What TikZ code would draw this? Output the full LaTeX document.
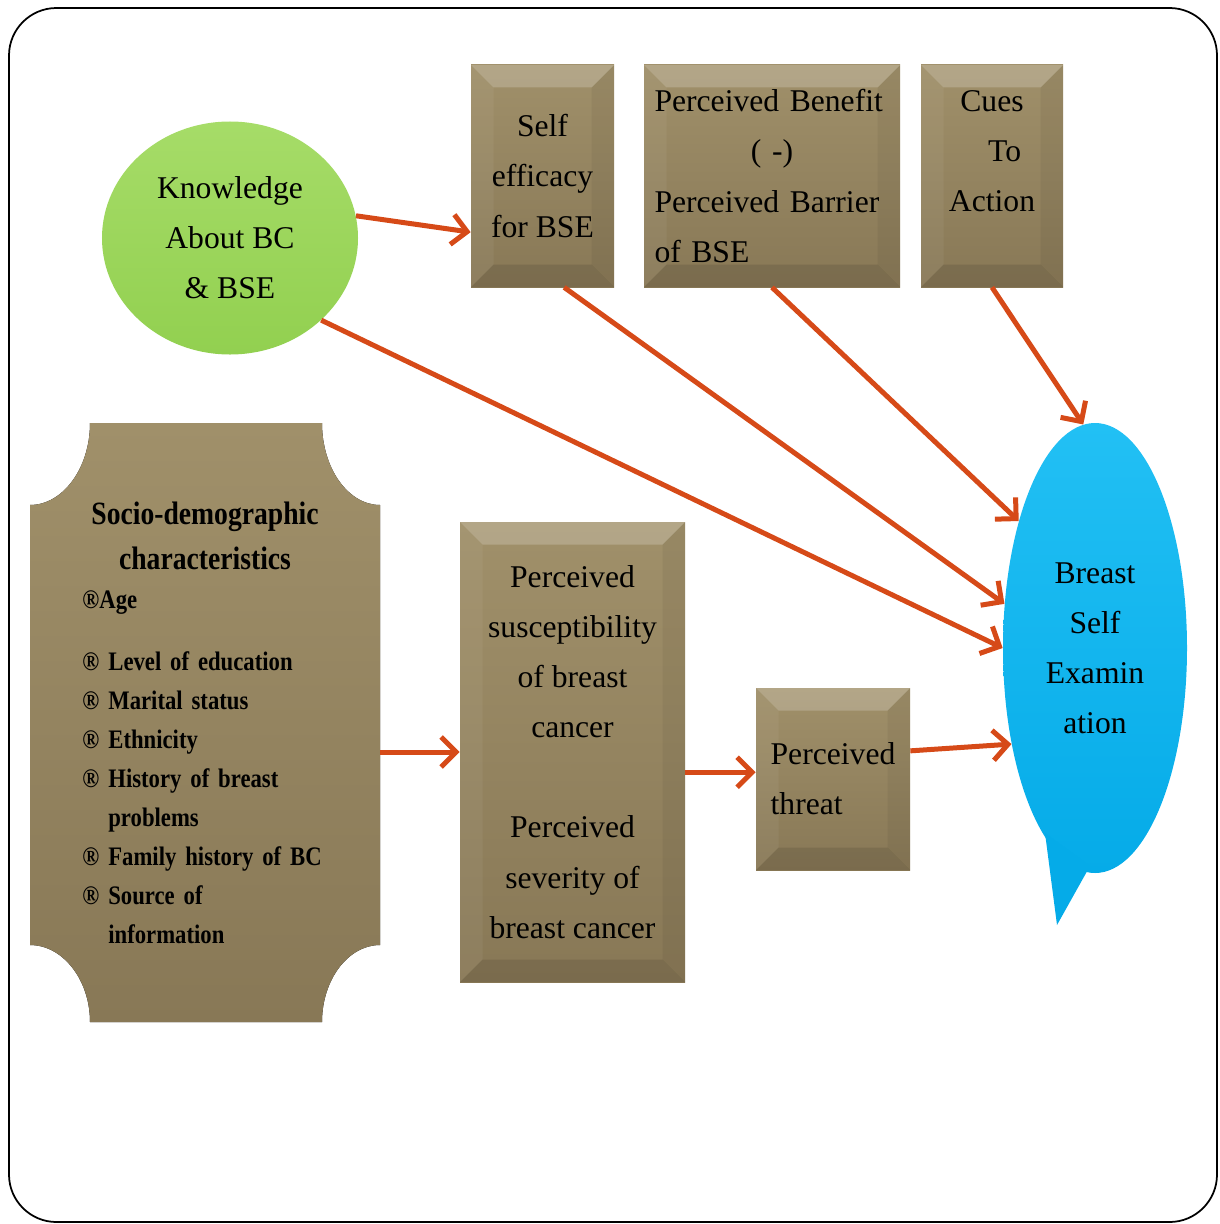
\documentclass[tikz,border=0pt]{standalone}
\usepackage{fontspec}
\setmainfont{Liberation Serif}
\newfontfamily\narrowfont[FakeStretch=0.85]{Liberation Serif}
\usetikzlibrary{arrows.meta,shapes.geometric,calc}
\definecolor{plate}{RGB}{136,120,86}
\definecolor{platetop}{RGB}{160,144,106}
\definecolor{leaf}{RGB}{146,208,80}
\definecolor{leaftop}{RGB}{166,220,104}
\definecolor{sky}{RGB}{5,171,232}
\definecolor{skytop}{RGB}{34,192,244}
\definecolor{rust}{RGB}{214,74,24}
\setlength{\parindent}{0pt}
\hyphenpenalty=10000

\begin{document}
\begin{tikzpicture}[x=0.2mm,y=-0.2mm]
	\tikzset{every node/.style={font=\fontsize{18}{28.5}\selectfont,
			inner sep=0pt, align=center}}
	\tikzset{bevel/.style = {path picture={
		\path (path picture bounding box.north west) coordinate (b1)
		      (path picture bounding box.north east) coordinate (b2)
		      (path picture bounding box.south east) coordinate (b3)
		      (path picture bounding box.south west) coordinate (b4);
		\fill[white,opacity=.2] (b1) -- (b2) -- ($(b2)+(-4.5mm,-4.5mm)$) -- ($(b1)+(4.5mm,-4.5mm)$) -- cycle;
		\fill[white,opacity=.05] (b1) -- (b4) -- ($(b4)+(4.5mm,4.5mm)$) -- ($(b1)+(4.5mm,-4.5mm)$) -- cycle;
		\fill[black,opacity=.05] (b2) -- (b3) -- ($(b3)+(-4.5mm,4.5mm)$) -- ($(b2)+(-4.5mm,-4.5mm)$) -- cycle;
		\fill[black,opacity=.1] (b4) -- (b3) -- ($(b3)+(-4.5mm,4.5mm)$) -- ($(b4)+(4.5mm,4.5mm)$) -- cycle;
	}}}
	\tikzset{box/.style = {rectangle, top color=platetop, bottom color=plate, bevel}}
	\tikzset{ball/.style = {ellipse, minimum width=51.2mm, minimum height=46.6mm,
			top color=leaftop, bottom color=leaf}}
	\tikzset{bubble/.style = {ellipse, minimum width=36.8mm, minimum height=90mm,
			top color=skytop, bottom color=sky}}
	\tikzset{link/.style = {draw=rust, line width=1mm,
			-{Straight Barb[length=3mm,width=6mm]}}}
	\useasboundingbox (0,0) rectangle (1219,1224);
	% frame
	\draw[line width=0.35mm, rounded corners=9.5mm] (9,8) rectangle (1217,1222);
	% plaque behind the socio-demographic list
	\fill[top color=platetop, bottom color=plate] (90,423) -- (322,423)
		.. controls (322,468) and (348,505) .. (380,505) -- (380,945)
		.. controls (348,945) and (322,980) .. (322,1022) -- (90,1022)
		.. controls (90,980) and (63,945) .. (30,945) -- (30,505)
		.. controls (63,505) and (90,468) .. (90,423) -- cycle;
	% vertices
	\node[ball] (know) at (230,238) {Knowledge\\About BC\\\& BSE};
	\node[box, minimum width=28.6mm, minimum height=44.4mm] (self) at (542.5,176)
		{Self\\efficacy\\for BSE};
	\node[box, minimum width=51.2mm, minimum height=44.4mm, text width=47mm, align=left]
		(benefit) at (772,176)
		{Perceived Benefit\\\hspace*{\fill}( -)\hspace*{\fill}\null\\Perceived Barrier\\of BSE};
	\node[box, minimum width=28.4mm, minimum height=44.4mm] (cues) at (992,176)
		{Cues\\\hspace*{0.8em}To\\Action\\\mbox{}};
	\node[minimum width=70mm, minimum height=119.8mm, text width=49mm, align=left,
		font=\narrowfont\bfseries\fontsize{15.2}{22.2}\selectfont] (socio) at (205,722.5)
		{\fontsize{18.5}{25.6}\selectfont
		 \hspace*{\fill}Socio-demographic\hspace*{\fill}\null\\
		 \hspace*{\fill}characteristics\hspace*{\fill}\null\\
		 \fontsize{15.2}{22.2}\selectfont
		 ®Age\\[4.6mm]
		 ® Level of education\\
		 ® Marital status\\
		 ® Ethnicity\\
		 ® History of breast\\
		 \phantom{® }problems\\
		 ® Family history of BC\\
		 ® Source of\\
		 \phantom{® }information};
	\node[box, minimum width=45mm, minimum height=92mm] (sus) at (572.5,752)
		{Perceived\\susceptibility\\of breast\\cancer\\[28.5pt]Perceived\\severity of\\breast cancer};
	\node[box, minimum width=30.8mm, minimum height=36.4mm, align=left] (threat) at (833,779)
		{Perceived\\threat};
	\node[bubble] (bse) at (1095,648) {Breast\\Self\\Examin\\ation};
	\fill[sky] ($(bse.center)+(-50,185)$) -- ($(bse.center)+(-5,218)$)
		-- ($(bse.center)+(-38,277)$) -- cycle;
	%edges
	\draw[link] (know.10) -- (self.218);
	\draw[link] (know.-42) -- (bse.west);
	\draw[link] (self.-79.5) -- (bse.154);
	\draw[link] (benefit.south) -- (bse.121);
	\draw[link] (cues.south) -- (bse.93);
	\draw[link] (socio.east |- sus.west) -- (sus.west);
	\draw[link] (sus.east |- threat.175) -- (threat.175);
	\draw[link] (threat.20) -- (bse.229);
\end{tikzpicture}
\end{document}
